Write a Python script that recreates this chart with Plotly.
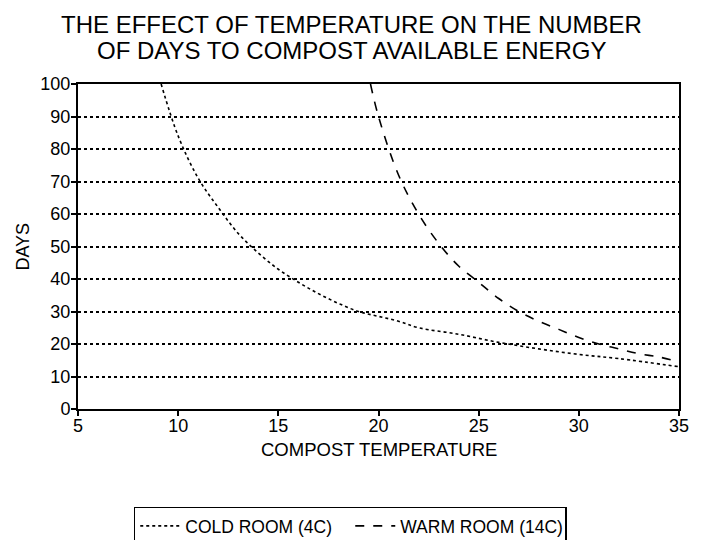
import plotly.graph_objects as go

# readings
cold_temp = [9.15, 10, 11, 12, 13, 14, 15, 16, 17, 18, 19, 20, 21, 22, 24, 26, 28, 30, 32, 35]
cold_days = [100, 84, 71, 62, 54, 48, 43, 39, 35.5, 32.5, 30, 28.5, 27, 25, 23, 20.5, 18.5, 16.8, 15.5, 13]

warm_temp = [19.6, 20, 21, 22, 23, 24, 25, 26, 27, 28, 29, 30, 31, 32, 33, 34, 35]
warm_days = [100, 90, 72, 60, 51, 44, 39, 34, 30, 27, 24.5, 22, 20, 18.5, 17, 16, 14.5]

x_ticks = [5, 10, 15, 20, 25, 30, 35]
y_ticks = [0, 10, 20, 30, 40, 50, 60, 70, 80, 90, 100]

title_lines = ['THE EFFECT OF TEMPERATURE ON THE NUMBER',
               'OF DAYS TO COMPOST AVAILABLE ENERGY']

FONT = 'Liberation Sans, Arial, sans-serif'

fig = go.Figure()

fig.add_trace(go.Scatter(
    x=cold_temp, y=cold_days,
    mode='lines', name='COLD ROOM (4C)',
    line=dict(color='black', width=1.6, dash='dot', shape='spline'),
))
fig.add_trace(go.Scatter(
    x=warm_temp, y=warm_days,
    mode='lines', name='WARM ROOM (14C)',
    line=dict(color='black', width=1.6, dash='dash', shape='spline'),
))

# title as two lines so the line spacing matches
for text, ypos in zip(title_lines, [1.182, 1.102]):
    fig.add_annotation(text=text, xref='paper', yref='paper', x=0.455, y=ypos,
                       xanchor='center', yanchor='middle', showarrow=False,
                       font=dict(size=24, color='black', family=FONT))

fig.add_annotation(text='COMPOST TEMPERATURE', xref='paper', yref='paper',
                   x=0.5, y=-0.126, xanchor='center', yanchor='middle',
                   showarrow=False, font=dict(size=18.5, color='black', family=FONT))
fig.add_annotation(text='DAYS', xref='paper', yref='paper', textangle=-90,
                   x=-0.093, y=0.5, xanchor='center', yanchor='middle',
                   showarrow=False, font=dict(size=18, color='black', family=FONT))

# page body adds an 8px offset, margins compensate for it
fig.update_layout(
    width=703, height=540,
    margin=dict(l=70, r=32, t=76, b=139, autoexpand=False),
    paper_bgcolor='white',
    plot_bgcolor='white',
    font=dict(family=FONT, color='black'),
    xaxis=dict(
        range=[5, 35], tickvals=x_ticks, automargin=False,
        showgrid=False, zeroline=False,
        showline=True, linecolor='black', linewidth=2, mirror=True,
        ticks='outside', ticklen=5, tickcolor='black', tickwidth=1.5,
        tickfont=dict(size=18), ticklabelstandoff=-6,
    ),
    yaxis=dict(
        range=[0, 100], tickvals=y_ticks, automargin=False,
        showgrid=True, gridcolor='black', gridwidth=1.5, griddash='dot',
        zeroline=False,
        showline=True, linecolor='black', linewidth=2, mirror=True,
        ticks='outside', ticklen=5, tickcolor='black', tickwidth=1.5,
        tickfont=dict(size=18), ticklabelstandoff=-3,
    ),
    showlegend=True,
    legend=dict(
        orientation='h', x=0.453, xanchor='center', y=-0.3, yanchor='top',
        bordercolor='black', borderwidth=1.5,
        font=dict(size=17.5), itemwidth=40, entrywidth=160,
    ),
)

fig.write_html("out.html")
